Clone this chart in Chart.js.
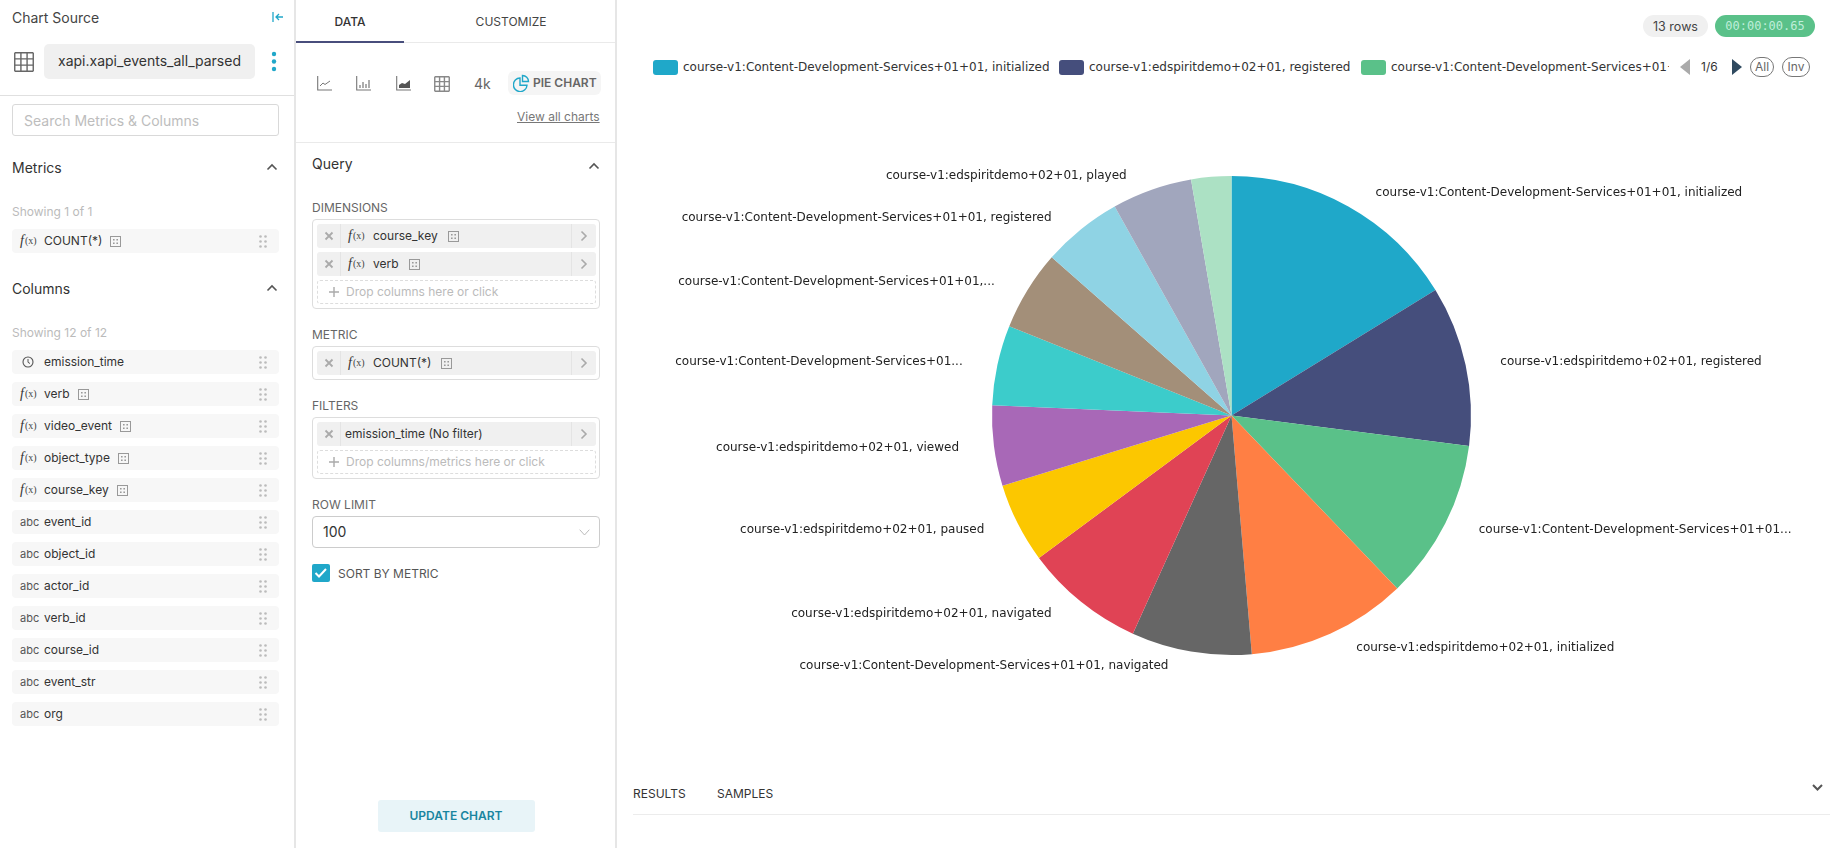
<!DOCTYPE html>
<html>
<head>
<meta charset="utf-8">
<title>Pie chart</title>
<script src="https://cdn.jsdelivr.net/npm/chart.js@4"></script>
<style>
  html,body{margin:0;padding:0;width:1846px;height:848px;overflow:hidden;background:#fff;font-family:Inter,"Noto Sans",sans-serif;color:#323232;}
  #ui div,#ui span{position:absolute;white-space:nowrap;}
  #ui svg{position:absolute;}
  #pie{position:absolute;left:617px;top:110px;}
  .t{line-height:16px;margin-top:-8px;}
</style>
</head>
<body>
<div id="ui"></div>
<canvas id="pie" width="1229" height="611" style="width:1229px;height:611px"></canvas>
<script>
// chart data
const categories = [
  'course-v1:Content-Development-Services+01+01, initialized',
  'course-v1:edspiritdemo+02+01, registered',
  'course-v1:Content-Development-Services+01+01...',
  'course-v1:edspiritdemo+02+01, initialized',
  'course-v1:Content-Development-Services+01+01, navigated',
  'course-v1:edspiritdemo+02+01, navigated',
  'course-v1:edspiritdemo+02+01, paused',
  'course-v1:edspiritdemo+02+01, viewed',
  'course-v1:Content-Development-Services+01...',
  'course-v1:Content-Development-Services+01+01,...',
  'course-v1:Content-Development-Services+01+01, registered',
  'course-v1:edspiritdemo+02+01, played',
  ''
];
const counts = [6,4,4,4,3,3,2,2,2,2,2,2,1];
const colors = ['#1FA8C9','#454E7C','#5AC189','#FF7F44','#666666','#E04355','#FCC700','#A868B7','#3CCCCB','#A38F79','#8FD3E4','#A1A6BD','#ACE1C4'];

const legendItems = [
  'course-v1:Content-Development-Services+01+01, initialized',
  'course-v1:edspiritdemo+02+01, registered',
  'course-v1:Content-Development-Services+01+01, paused'
];
const metricRows = [['fx','COUNT(*)',true]];
const columnRows = [
  ['time','emission_time',false],['fx','verb',true],['fx','video_event',true],['fx','object_type',true],
  ['fx','course_key',true],['abc','event_id',false],['abc','object_id',false],['abc','actor_id',false],
  ['abc','verb_id',false],['abc','course_id',false],['abc','event_str',false],['abc','org',false]
];

// small helpers for the surrounding page
const ui = document.getElementById('ui');
let dx = 0; // query panel is nudged as a group
function box(x,y,w,h,css){
  const d = document.createElement('div');
  d.style.cssText = `left:${x+dx}px;top:${y}px;width:${w}px;height:${h}px;box-sizing:border-box;${css||''}`;
  ui.appendChild(d); return d;
}
function txt(x,y,s,css){
  const d = document.createElement('span');
  d.className = 't';
  d.style.cssText = `left:${x+dx}px;top:${y}px;font-size:12px;${css||''}`;
  d.textContent = s;
  ui.appendChild(d); return d;
}
function svg(x,y,w,h,inner,css){
  ui.insertAdjacentHTML('beforeend',`<svg style="left:${x+dx}px;top:${y}px;${css||''}" width="${w}" height="${h}" viewBox="0 0 ${w} ${h}" fill="none">${inner}</svg>`);
}
function chevUp(x,y){ svg(x-6,y-4,12,8,'<path d="M1.5 6.5L6 2l4.5 4.5" stroke="#555" stroke-width="1.6"/>'); }
function gridIcon(x,y,s,col){
  let p = '';
  for(let i=0;i<=3;i++){ const v=.75+i*(s-1.5)/3; p+=`<path d="M${v} .75V${s-.75}M.75 ${v}H${s-.75}" stroke="${col}" stroke-width="1.4"/>`; }
  svg(x,y,s,s,p);
}
function catIcon(x,y){ // small boxed dots next to categorical columns
  svg(x,y,11,11,'<rect x=".5" y=".5" width="10" height="10" stroke="#999"/><path d="M3 3h1.6v1.6H3zM6.4 3H8v1.6H6.4zM3 6.4h1.6V8H3zM6.4 6.4H8V8H6.4z" fill="#999"/>');
}
function drag(x,y){
  let p = '';
  for(const a of [1.5,6.5]) for(const b of [1.5,6.5,11.5]) p+=`<circle cx="${a}" cy="${b}" r="1.3" fill="#bbb"/>`;
  svg(x,y,8,13,p);
}
function clock(x,y){ svg(x,y,12,12,'<circle cx="6" cy="6" r="5" stroke="#555" stroke-width="1.1"/><path d="M6 3v3.3l2 1.2" stroke="#555"/>'); }

function columnRow(r,cy){
  box(12,cy-12,267,24,'background:#f7f7f7;border-radius:4px;');
  if(r[0]=='fx'){ txt(20,cy,'f',"font-family:'Liberation Serif',serif;font-style:italic;font-size:14px;color:#333"); txt(25,cy,'(x)',"font-family:'Liberation Serif',serif;font-size:10px;color:#444"); }
  if(r[0]=='abc') txt(20,cy,'abc','font-size:11px;color:#555');
  if(r[0]=='time') clock(22,cy-6);
  const t = txt(44,cy,r[1],'color:#333');
  if(r[2]) catIcon(44+t.getBoundingClientRect().width+8,cy-5);
  drag(259,cy-6);
}
function chip(y,label,iconType,textX){
  box(319,y,279,24,'background:#f0f0f0;border-radius:3px;');
  box(342,y,1,24,'background:#e4e4e4');
  box(573,y,1,24,'background:#e4e4e4');
  svg(326,y+7,10,10,'<path d="M1.5 1.5l7 7M8.5 1.5l-7 7" stroke="#aaa" stroke-width="1.8"/>');
  svg(582,y+6,8,12,'<path d="M1.5 1.5L6 6l-4.5 4.5" stroke="#aaa" stroke-width="1.6"/>');
  if(iconType=='fx'){
    txt(350,y+12,'f',"font-family:'Liberation Serif',serif;font-style:italic;font-size:14px;color:#333");
    txt(355,y+12,'(x)',"font-family:'Liberation Serif',serif;font-size:10px;color:#444");
    const t = txt(375,y+12,label,'color:#333');
    catIcon(375+t.getBoundingClientRect().width+8-dx,y+7);
  } else {
    txt(textX,y+12,label,'color:#333');
  }
}
function dropZone(y,label){
  box(319,y,279,24,'border:1px dashed #ddd;border-radius:3px;');
  svg(331,y+7,10,10,'<path d="M5 0v10M0 5h10" stroke="#aaa" stroke-width="1.4"/>');
  txt(348,y+12,label,'color:#bbb');
}

// left column
txt(12,18,'Chart Source','font-size:14px;color:#444');
svg(272,11,12,12,'<path d="M1 1v10" stroke="#20a7c9" stroke-width="1.3"/><path d="M11 6H4.5M7 3L4 6l3 3" stroke="#20a7c9" stroke-width="1.3"/>');
gridIcon(14,52,20,'#666');
box(44,44,211,35,'background:#f0f0f0;border-radius:5px;');
txt(58,61,'xapi.xapi_events_all_parsed','font-size:14px;color:#333');
svg(271,51,6,21,'<circle cx="3" cy="3" r="2.2" fill="#20a7c9"/><circle cx="3" cy="10.5" r="2.2" fill="#20a7c9"/><circle cx="3" cy="18" r="2.2" fill="#20a7c9"/>');
box(0,95,295,1,'background:#e0e0e0');
box(12,104,267,32,'border:1px solid #d9d9d9;border-radius:3px;');
txt(24,121,'Search Metrics & Columns','font-size:14px;color:#bdbdbd');
txt(12,168,'Metrics','font-size:14px;color:#333'); chevUp(272,167);
txt(12,212,'Showing 1 of 1','color:#bbb');
metricRows.forEach(r=>columnRow(r,241));
txt(12,289,'Columns','font-size:14px;color:#333'); chevUp(272,288);
txt(12,333,'Showing 12 of 12','color:#bbb');
columnRows.forEach((r,i)=>columnRow(r,362+i*32));

// query panel
dx = -2;
box(296,0,2,848,'background:#e6e6e6');
txt(352,22,'DATA','font-weight:500;transform:translateX(-50%);color:#333');
txt(513,22,'CUSTOMIZE','font-weight:400;transform:translateX(-50%);color:#444');
box(298,42,320,1,'background:#eaeaea');
box(298,41,108,2,'background:#484e7c');
svg(319,76,15,15,'<path d="M.7 0v14H15" stroke="#777" stroke-width="1.1"/><path d="M3 10l3-3 2 1.5L13 5" stroke="#777"/>');
svg(358,76,15,15,'<path d="M.7 0v14H15" stroke="#777" stroke-width="1.1"/><path d="M4 12V9M7 12V6M10 12V8M13 12V4" stroke="#777" stroke-width="1.2"/>');
svg(398,76,15,15,'<path d="M.7 0v14H15" stroke="#777" stroke-width="1.1"/><path d="M3 12V9l3-2 3 1 5-4v8z" fill="#555"/>');
gridIcon(436,76,16,'#888');
txt(476,84,'4k','font-size:14px;color:#666');
box(510,71,93,24,'background:#f5f5f5;border-radius:6px;');
svg(515,74,17,18,'<path d="M7 4a6.8 6.8 0 1 0 7 7.2H7z" stroke="#20a7c9" stroke-width="1.4"/><path d="M9.5 1.5a6 6 0 0 1 6 6h-6z" stroke="#20a7c9" stroke-width="1.4"/>');
txt(535,83,'PIE CHART','font-weight:600;color:#666;');
txt(519,117,'View all charts','color:#777;text-decoration:underline;');
box(298,142,320,1,'background:#eaeaea');
txt(314,164,'Query','font-size:14px;color:#333'); chevUp(596,166);

txt(314,208,'DIMENSIONS','color:#666');
box(314,219,288,90,'border:1px solid #ddd;border-radius:4px;');
chip(224,'course_key','fx'); chip(252,'verb','fx');
dropZone(280,'Drop columns here or click');
txt(314,335,'METRIC','color:#666');
box(314,346,288,34,'border:1px solid #ddd;border-radius:4px;');
chip(351,'COUNT(*)','fx');
txt(314,406,'FILTERS','color:#666');
box(314,417,288,62,'border:1px solid #ddd;border-radius:4px;');
chip(422,'emission_time (No filter)','none',347);
dropZone(450,'Drop columns/metrics here or click');
txt(314,505,'ROW LIMIT','color:#666');
box(314,516,288,32,'border:1px solid #ccc;border-radius:4px;');
txt(325,532,'100','font-size:14px;color:#333');
svg(581,529,11,7,'<path d="M.7.7L5.5 6 10.3.7" stroke="#bbb"/>');
box(314,564,18,18,'background:#20a7c9;border-radius:2px;');
svg(316,567,14,12,'<path d="M1.5 6l3.5 3.5L12 2" stroke="#fff" stroke-width="2"/>');
txt(340,574,'SORT BY METRIC','color:#555');
box(380,800,157,32,'background:#e8f4f8;border-radius:3px;');
txt(458,816,'UPDATE CHART','font-weight:600;color:#1985a0;transform:translateX(-50%);');
box(617,0,2,848,'background:#e6e6e6');
dx = 0;

// status pills
box(1643,15,65,22,'background:#f0f0f0;border-radius:11px;');
txt(1675.5,27,'13 rows','color:#444;transform:translateX(-50%);font-size:12.5px');
box(1715,15,100,22,'background:#5ac189;border-radius:11px;');
txt(1765,26,'00:00:00.65',"font-family:'DejaVu Sans Mono',monospace;color:#bfeeda;transform:translateX(-50%);");

// legend, first page of six
const legendX = [653,1059,1361], legendW = [396,291,308];
legendItems.forEach((s,i)=>{
  box(legendX[i],60,25,15,`background:${colors[i]};border-radius:3px;`);
  const clip = box(legendX[i]+30,58,legendW[i]-30,19,'overflow:hidden;');
  const t = document.createElement('span');
  t.style.cssText = "left:0;top:0;font:12px/19px 'DejaVu Sans',sans-serif;color:#333";
  t.textContent = s; clip.appendChild(t);
});
svg(1680,58,10,18,'<path d="M10 1v16L0 9z" fill="#aaa"/>');
txt(1701,67,'1/6','color:#333');
svg(1732,58,10,18,'<path d="M0 1v16l10-8z" fill="#2f4a60"/>');
box(1750,57,24,20,'border:1px solid #777;border-radius:10px;');
txt(1762,67,'All','color:#666;transform:translateX(-50%);');
box(1782,57,28,20,'border:1px solid #777;border-radius:10px;');
txt(1796,67,'Inv','color:#666;transform:translateX(-50%);');

// bottom tabs
txt(633,794,'RESULTS','color:#333');
txt(717,794,'SAMPLES','color:#333');
svg(1812,784,11,7,'<path d="M1 1l4.5 4.5L10 1" stroke="#555" stroke-width="2"/>');
box(633,814,1197,1,'background:#ececec');

// slice labels, placed from the arcs
const sliceLabels = {
  id:'sliceLabels',
  afterDatasetsDraw(chart){
    const ctx = chart.ctx;
    ctx.save();
    ctx.font = "12px 'DejaVu Sans',sans-serif";
    ctx.fillStyle = '#222';
    ctx.textBaseline = 'middle';
    chart.getDatasetMeta(0).data.forEach((arc,i)=>{
      const p = arc.getProps(['x','y','startAngle','endAngle','outerRadius'],true);
      const mid = (p.startAngle+p.endAngle)/2;
      const r = p.outerRadius+15;
      const right = Math.cos(mid) > 0;
      ctx.textAlign = right ? 'left' : 'right';
      ctx.fillText(categories[i], p.x+r*Math.cos(mid)+(right?20:-20), p.y+r*Math.sin(mid));
    });
    ctx.restore();
  }
};

new Chart(document.getElementById('pie'),{
  type:'pie',
  data:{labels:categories,datasets:[{data:counts,backgroundColor:colors,borderWidth:0,radius:239.5}]},
  options:{
    responsive:false,
    animation:false,
    plugins:{legend:{display:false},tooltip:{enabled:false}}
  },
  plugins:[sliceLabels]
});
</script>
</body>
</html>
